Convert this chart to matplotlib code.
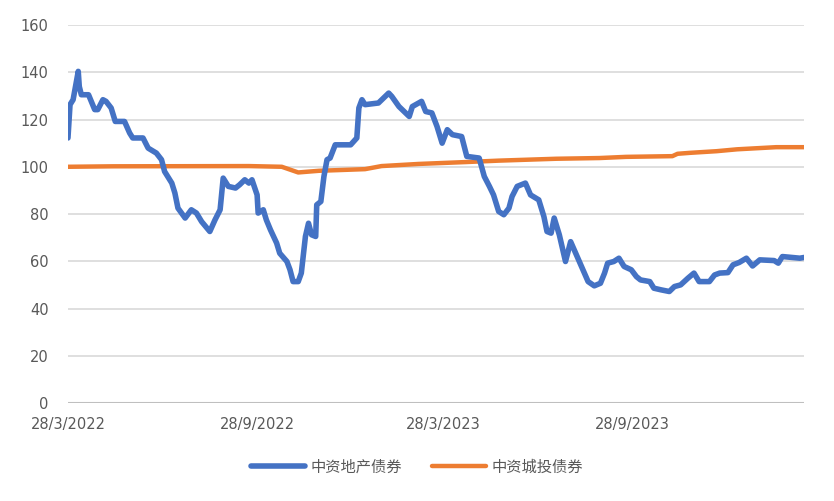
import matplotlib
matplotlib.use("Agg")
import matplotlib.pyplot as plt
import pandas as pd

plt.rcParams['font.family'] = ['Noto Sans CJK SC', 'DejaVu Sans']

series_names = ["中资地产债券", "中资城投债券"]

property_dates = [
    "2022-03-28", "2022-03-30", "2022-04-02", "2022-04-07", "2022-04-08", "2022-04-10",
    "2022-04-17", "2022-04-23", "2022-04-26", "2022-05-01", "2022-05-04", "2022-05-09",
    "2022-05-13", "2022-05-22", "2022-05-27", "2022-05-30", "2022-06-09", "2022-06-14",
    "2022-06-22", "2022-06-27", "2022-06-30", "2022-07-07", "2022-07-10", "2022-07-13",
    "2022-07-20", "2022-07-26", "2022-07-31", "2022-08-05", "2022-08-13", "2022-08-18",
    "2022-08-23", "2022-08-26", "2022-08-31", "2022-09-07", "2022-09-11", "2022-09-16",
    "2022-09-20", "2022-09-23", "2022-09-28", "2022-09-29", "2022-10-04", "2022-10-07",
    "2022-10-11", "2022-10-17", "2022-10-20", "2022-10-27", "2022-10-30", "2022-11-02",
    "2022-11-07", "2022-11-10", "2022-11-14", "2022-11-17", "2022-11-20", "2022-11-24",
    "2022-11-25", "2022-11-29", "2022-12-02", "2022-12-05", "2022-12-08", "2022-12-13",
    "2022-12-28", "2023-01-03", "2023-01-05", "2023-01-08", "2023-01-11", "2023-01-24",
    "2023-02-03", "2023-02-06", "2023-02-13", "2023-02-23", "2023-02-26", "2023-03-07",
    "2023-03-11", "2023-03-17", "2023-03-22", "2023-03-27", "2023-04-01", "2023-04-06",
    "2023-04-15", "2023-04-20", "2023-05-02", "2023-05-07", "2023-05-12", "2023-05-16",
    "2023-05-21", "2023-05-26", "2023-05-31", "2023-06-03", "2023-06-08", "2023-06-16",
    "2023-06-21", "2023-06-29", "2023-07-04", "2023-07-07", "2023-07-11", "2023-07-14",
    "2023-07-19", "2023-07-25", "2023-07-30", "2023-08-06", "2023-08-11", "2023-08-16",
    "2023-08-22", "2023-08-28", "2023-09-01", "2023-09-04", "2023-09-10", "2023-09-15",
    "2023-09-20", "2023-09-27", "2023-10-02", "2023-10-06", "2023-10-15", "2023-10-19",
    "2023-10-26", "2023-11-03", "2023-11-08", "2023-11-14", "2023-11-21", "2023-11-27",
    "2023-12-02", "2023-12-12", "2023-12-17", "2023-12-22", "2023-12-30", "2024-01-04",
    "2024-01-10", "2024-01-17", "2024-01-23", "2024-01-30", "2024-02-13", "2024-02-17",
    "2024-02-21", "2024-03-02", "2024-03-09", "2024-03-13",
]
property_values = [
    112.2, 126.3, 128.4, 140.4, 134.0, 130.5,
    130.5, 124.2, 124.2, 128.4, 127.7, 124.9,
    119.2, 119.2, 114.3, 112.2, 112.2, 107.9,
    105.8, 103.0, 98.0, 93.1, 88.9, 82.5,
    78.3, 81.8, 80.4, 76.8, 72.6, 77.5,
    81.8, 95.2, 91.7, 91.0, 92.4, 94.5,
    93.1, 94.5, 88.1, 80.4, 81.8, 77.5,
    73.3, 67.7, 63.4, 59.9, 56.4, 51.4,
    51.4, 55.0, 70.5, 76.1, 71.2, 70.5,
    83.9, 85.3, 95.9, 103.0, 103.7, 109.3,
    109.3, 112.2, 124.9, 128.4, 126.3, 127.0,
    131.2, 129.8, 125.5, 121.3, 125.5, 127.7,
    123.4, 122.8, 117.1, 110.0, 115.7, 113.6,
    112.8, 104.4, 103.7, 95.9, 91.7, 88.1,
    81.1, 79.7, 82.5, 87.4, 91.7, 93.1,
    88.1, 86.0, 78.9, 72.6, 71.9, 78.3,
    71.2, 59.9, 68.3, 61.3, 56.4, 51.4,
    49.6, 50.7, 55.0, 59.2, 59.9, 61.3,
    57.8, 56.4, 53.5, 52.1, 51.4, 48.6,
    47.9, 47.2, 49.3, 50.0, 52.8, 55.0,
    51.4, 51.4, 54.2, 55.0, 55.2, 58.5,
    59.5, 61.3, 58.0, 60.6, 60.3, 59.2,
    62.0, 61.6, 61.3, 61.6,
]

lgfv_dates = [
    "2022-03-28", "2022-05-11", "2022-09-20", "2022-10-22", "2022-11-07", "2022-11-27",
    "2023-01-11", "2023-01-27", "2023-03-04", "2023-04-19", "2023-05-21", "2023-07-16",
    "2023-08-27", "2023-09-22", "2023-11-06", "2023-11-11", "2023-11-23", "2023-12-19",
    "2024-01-08", "2024-02-15", "2024-03-13",
]
lgfv_values = [
    100.0, 100.2, 100.3, 100.0, 97.6, 98.3,
    99.0, 100.3, 101.2, 102.0, 102.6, 103.4,
    103.7, 104.2, 104.5, 105.5, 105.9, 106.6,
    107.4, 108.3, 108.3,
]

tick_dates = ["2022-03-28", "2022-09-28", "2023-03-28", "2023-09-28"]
tick_labels = ["28/3/2022", "28/9/2022", "28/3/2023", "28/9/2023"]
y_ticks = [0, 20, 40, 60, 80, 100, 120, 140, 160]

fig = plt.figure(figsize=(8.34, 5.01), dpi=100)
ax = fig.add_axes([0.0815, 0.1956, 0.8825, 0.7544])

ax.plot(pd.to_datetime(property_dates), property_values, color="#4472C4",
        lw=4.0, solid_joinstyle="round", solid_capstyle="round", label=series_names[0], zorder=3)
ax.plot(pd.to_datetime(lgfv_dates), lgfv_values, color="#ED7D31",
        lw=3.2, solid_joinstyle="round", solid_capstyle="round", label=series_names[1], zorder=2)

ax.set_xlim(pd.Timestamp("2022-03-28"), pd.Timestamp("2024-03-13"))
ax.set_ylim(0, 160)
ax.set_yticks(y_ticks)
ax.set_xticks(pd.to_datetime(tick_dates))
ax.set_xticklabels(tick_labels)

for s in ax.spines.values():
    s.set_visible(False)
ax.grid(axis="y", color="#d9d9d9", lw=1.2)
ax.set_axisbelow(True)
ax.axhline(0, color="#bfbfbf", lw=1.5, zorder=1)
ax.tick_params(axis="both", length=0, colors="#595959", labelsize=10.5)
ax.tick_params(axis="y", pad=14)
ax.tick_params(axis="x", pad=10)
for lbl in ax.get_xticklabels() + ax.get_yticklabels():
    lbl.set_fontfamily(["DejaVu Sans"])

leg = fig.legend(loc="center", bbox_to_anchor=(0.5, 0.068), ncol=2, frameon=False,
                 fontsize=11, handlelength=3.5, handletextpad=0.35, columnspacing=2.0)
for t in leg.get_texts():
    t.set_color("#595959")

fig.savefig("out.png", dpi=100)
